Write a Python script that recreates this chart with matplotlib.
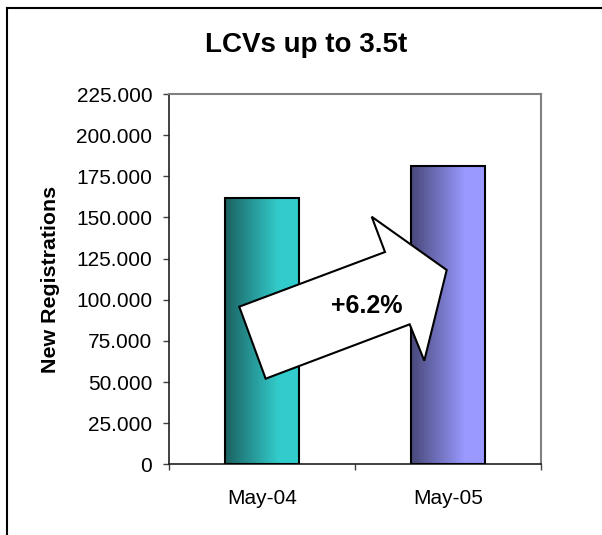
import numpy as np
import matplotlib
matplotlib.use("Agg")
import matplotlib.pyplot as plt
from matplotlib.patches import Polygon
from matplotlib.lines import Line2D
from matplotlib.ticker import FuncFormatter, FixedLocator

plt.rcParams['font.family'] = ['Liberation Sans', 'DejaVu Sans']

# data
months = ["May-04", "May-05"]
registrations = [161600, 181400]
change_label = "+6.2%"
y_ticks = [0, 25000, 50000, 75000, 100000, 125000, 150000, 175000, 200000, 225000]

TEAL_DARK = "#1b6161"
TEAL_LIGHT = "#33cccc"
VIOLET_DARK = "#48487a"
VIOLET_LIGHT = "#9999ff"
GRADIENTS = [(TEAL_DARK, TEAL_LIGHT), (VIOLET_DARK, VIOLET_LIGHT)]


def gradient_strip(c0, c1, n=200, reach=0.72):
    a = np.array(matplotlib.colors.to_rgb(c0))
    b = np.array(matplotlib.colors.to_rgb(c1))
    t = np.clip(np.linspace(0, 1, n) / reach, 0, 1)[:, None]
    return (a + (b - a) * t)[None, :, :]


fig = plt.figure(figsize=(6.02, 5.35), dpi=100)
ax = fig.add_axes([169 / 602, 1 - 464.3 / 535, 371.7 / 602, 370.3 / 535])

x = np.arange(len(months))
bars = ax.bar(x, registrations, width=0.40, facecolor="none", edgecolor="black",
              lw=1.5, zorder=3)
for bar, (c0, c1) in zip(bars, GRADIENTS):
    x0, w, h = bar.get_x(), bar.get_width(), bar.get_height()
    im = ax.imshow(gradient_strip(c0, c1), extent=(x0, x0 + w, 0, h),
                   aspect="auto", zorder=2, interpolation="bilinear")
    im.set_clip_path(bar)

ax.set_xlim(-0.5, len(months) - 0.5)
ax.set_ylim(0, y_ticks[-1])

# category boundaries carry the tick marks, labels sit in the middle
ax.xaxis.set_major_locator(FixedLocator(np.arange(len(months) + 1) - 0.5))
ax.xaxis.set_minor_locator(FixedLocator(x))
ax.set_xticklabels([""] * (len(months) + 1))
ax.set_xticklabels(months, minor=True)
ax.tick_params(axis="x", which="major", direction="out", length=4.5, width=1, colors="#404040")
ax.tick_params(axis="x", which="minor", length=0, pad=17.5, labelsize=15, labelcolor="black")

ax.set_yticks(y_ticks)
ax.yaxis.set_major_formatter(FuncFormatter(lambda v, p: f"{v:,.0f}".replace(",", ".")))
ax.tick_params(axis="y", direction="out", length=4.5, width=1, pad=7.5, labelsize=15,
               colors="#404040", labelcolor="black")

for side in ["left", "bottom"]:
    ax.spines[side].set_color("#202020")
    ax.spines[side].set_linewidth(1.2)
for side in ["top", "right"]:
    ax.spines[side].set_color("#808080")
    ax.spines[side].set_linewidth(1.5)

ax.set_ylabel("New Registrations", fontsize=15.4, fontweight="bold", labelpad=12)

# big white arrow showing the growth
arrow_pts = [(0.189, 0.4256), (0.260, 0.2312), (0.6475, 0.378), (0.6868, 0.2798),
             (0.7471, 0.5247), (0.5453, 0.6686), (0.5811, 0.5733)]
ax.add_patch(Polygon(arrow_pts, closed=True, transform=ax.transAxes, facecolor="white",
                     edgecolor="black", lw=1.5, zorder=4, joinstyle="miter"))
ax.text(0.533, 0.408, change_label, transform=ax.transAxes, ha="center", va="baseline",
        fontsize=18, fontweight="bold", zorder=5)

fig.text(306.5 / 602, 1 - 52 / 535, "LCVs up to 3.5t", ha="center", va="baseline",
         fontsize=20, fontweight="bold")

# outer chart frame (only top and left are inside the crop)
fig.add_artist(Line2D([7 / 602, 7 / 602], [0, 1 - 7.5 / 535], color="black", lw=1.5))
fig.add_artist(Line2D([7 / 602, 1], [1 - 7.5 / 535, 1 - 7.5 / 535], color="black", lw=1.5))

fig.savefig("out.png", dpi=100)
